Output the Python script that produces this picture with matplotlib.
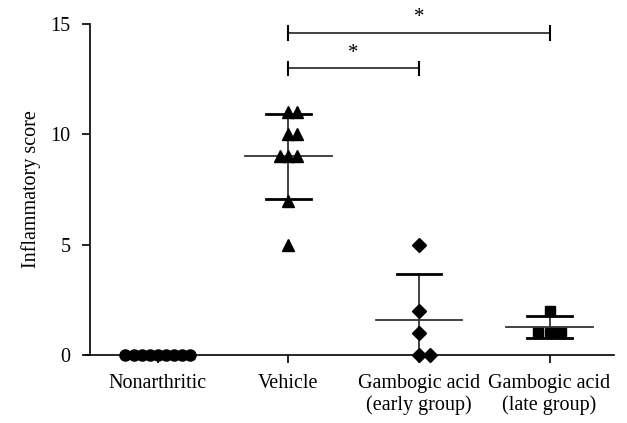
import numpy as np
import matplotlib.pyplot as plt

# данные (оценка воспаления по группам)
groups = ["Nonarthritic", "Vehicle", "Gambogic acid\n(early group)", "Gambogic acid\n(late group)"]
nonarthritic = [0, 0, 0, 0, 0, 0, 0, 0, 0]
vehicle = [11, 11, 10, 10, 9, 9, 9, 7, 5]
gambogic_early = [5, 2, 1, 0, 0]
gambogic_late = [2, 1, 1, 1]
markers = ["o", "^", "D", "s"]

# значимые различия: (группа 1, группа 2, высота)
sig_pairs = [(1, 2, 13.0), (1, 3, 14.6)]
sig_labels = ["*", "*"]

plt.rcParams['font.family'] = ['Liberation Serif', 'DejaVu Serif']


# раскладка одинаковых значений по горизонтали
def swarm(values, step):
    values = np.asarray(values, dtype=float)
    offs = np.zeros(len(values))
    order = [0, 1, -1, 2, -2, 3, -3, 4, -4, 5, -5]
    for v in np.unique(values):
        idx = np.where(values == v)[0]
        n = len(idx)
        if n > 5:
            slots = np.arange(n) - (n - 1) / 2
        else:
            slots = np.array(order[:n])
        offs[idx] = slots * step
    return offs


fig = plt.figure(figsize=(6.27, 4.23), dpi=100)
ax = fig.add_axes([0.1435, 0.161, 0.835, 0.782])

data = [nonarthritic, vehicle, gambogic_early, gambogic_late]
for i, (vals, m) in enumerate(zip(data, markers)):
    step = 0.062 if len(vals) > 5 else 0.087
    xs = i + swarm(vals, step)
    ax.plot(xs, vals, linestyle="none", marker=m, color="black",
            markersize=7 if m in ("D", "s") else 8, clip_on=False, zorder=4)
    mean = np.mean(vals)
    sd = np.std(vals, ddof=1)
    ax.plot([i - 0.33, i + 0.33], [mean, mean], color="#333333", lw=1.3, zorder=3)
    if sd > 0:
        ax.plot([i, i], [mean - sd, mean + sd], color="#333333", lw=1.3, zorder=3)
        for y in (mean - sd, mean + sd):
            ax.plot([i - 0.17, i + 0.17], [y, y], color="black", lw=2, zorder=3)

# скобки значимости
for (a, b, h), lab in zip(sig_pairs, sig_labels):
    ax.plot([a, b], [h, h], color="#333333", lw=1.3)
    ax.plot([a, a], [h - 0.3, h + 0.3], color="black", lw=1.5)
    ax.plot([b, b], [h - 0.3, h + 0.3], color="black", lw=1.5)
    ax.text((a + b) / 2, h + 0.25, lab, ha="center", va="bottom", fontsize=15)

ax.set_xlim(-0.52, 3.49)
ax.set_ylim(0, 15)
ax.set_yticks([0, 5, 10, 15])
ax.set_xticks(range(len(groups)))
ax.set_xticklabels(groups, linespacing=1.15)
ax.set_ylabel("Inflammatory score", fontsize=14.5, labelpad=7)
ax.tick_params(axis="both", labelsize=14.5, length=6, width=1.2, direction="out")
ax.tick_params(axis="y", pad=8)
ax.tick_params(axis="x", pad=8)
ax.spines["top"].set_visible(False)
ax.spines["right"].set_visible(False)
ax.spines["left"].set_linewidth(1.2)
ax.spines["bottom"].set_linewidth(1.2)
ax.spines["bottom"].set_bounds(-0.55, 3.49)

plt.savefig("out.png", dpi=100)
